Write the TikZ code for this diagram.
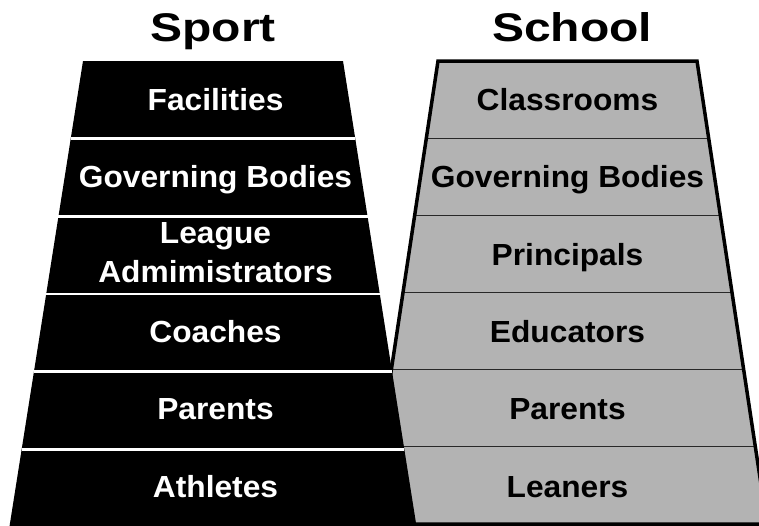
\documentclass[tikz,border=0pt]{standalone}
\usepackage{fontspec}
\setmainfont[FakeStretch=1.04]{Liberation Sans}
\newfontfamily\headfont[FakeStretch=1.2]{Liberation Sans Bold}
\usetikzlibrary{calc}
\definecolor{SchoolGray}{RGB}{179,179,179}
\definecolor{BandLine}{RGB}{40,40,40}

\begin{document}
\begin{tikzpicture}[x=1pt,y=-1pt,
  headtext/.style={font=\headfont\fontsize{40}{48}\selectfont,anchor=base},
  tier/.style={font=\fontsize{30.5}{39}\selectfont\bfseries,inner sep=0pt,align=center},
  tierrow/.style={tier,text height=21.8pt,text depth=0pt}]
\useasboundingbox (0,0) rectangle (759,525);
\clip (0,0) rectangle (759,525);
\coordinate (spTL) at (83,61); \coordinate (spTR) at (343,61);
\coordinate (spBR) at (416.6,527); \coordinate (spBL) at (9.4,527);
\coordinate (scTL) at (438,61); \coordinate (scTR) at (697,61);
\coordinate (scBR) at (767,524); \coordinate (scBL) at (368,524);
% school
\fill[SchoolGray] (scTL) -- (scTR) -- (scBR) -- (scBL) -- cycle;
\foreach \k in {1,...,5}
  \draw[BandLine,line width=1.3pt] ($(scTL)!\k/6!(scBL)$) -- ($(scTR)!\k/6!(scBR)$);
\draw[line width=3.5pt] (scTL) -- (scTR) -- (scBR) -- (scBL) -- cycle;
% sport
\fill[black] (spTL) -- (spTR) -- (spBR) -- (spBL) -- cycle;
\foreach \k in {1,...,5}
  \draw[white,line width=2.6pt] ($(spTL)!\k/6!(spBL)$) -- ($(spTR)!\k/6!(spBR)$);
\node[headtext] (sport) at (213,41.7) {Sport};
\node[headtext] (school) at (572,41.7) {School};
\node[tierrow,white] (facil) at (215.5,99.6) {Facilities};
\node[tierrow,white] (govsp) at (215.5,176.8) {Governing Bodies};
\node[tier,white,anchor=base] (league) at (215.5,282) {League\\Admimistrators};
\node[tierrow,white] (coach) at (215.5,332) {Coaches};
\node[tierrow,white] (parsp) at (215.5,409) {Parents};
\node[tierrow,white] (athl) at (215.5,486.5) {Athletes};
\node[tierrow] (class) at (567.5,99.6) {Classrooms};
\node[tierrow] (govsc) at (567.5,176.8) {Governing Bodies};
\node[tierrow] (princ) at (567.5,254.5) {Principals};
\node[tierrow] (educ) at (567.5,332) {Educators};
\node[tierrow] (parsc) at (567.5,409) {Parents};
\node[tierrow] (lean) at (567.5,486.5) {Leaners};
\end{tikzpicture}
\end{document}
